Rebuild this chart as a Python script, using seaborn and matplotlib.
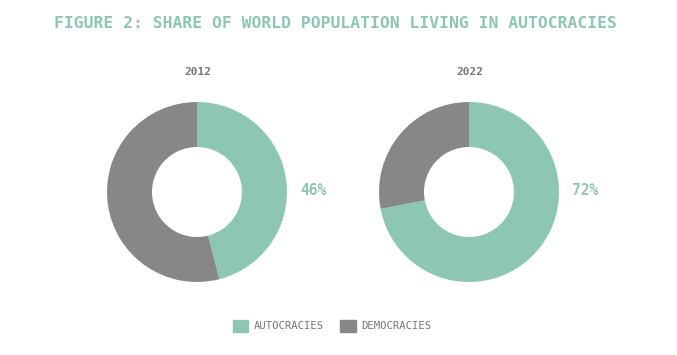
import matplotlib
matplotlib.use("Agg")
import matplotlib.pyplot as plt
import matplotlib.patches as mpatches
import seaborn as sns

# data
years = ["2012", "2022"]
categories = ["AUTOCRACIES", "DEMOCRACIES"]
autocracy_share = [46, 72]
democracy_share = [54, 28]

teal = "#8dc7b4"
grey = "#878786"
colors = [teal, grey]

sns.set_theme(style="white")
plt.rcParams['font.family'] = ['DejaVu Sans Mono', 'DejaVu Sans']

fig = plt.figure(figsize=(6.77, 3.55), dpi=100)
fig.patch.set_facecolor("white")

fig.text(335 / 677, 1 - 24 / 355, "FIGURE 2: SHARE OF WORLD POPULATION LIVING IN AUTOCRACIES",
         ha="center", va="center", fontsize=11.8, fontweight="bold", color=teal)

centers = [197, 469]
radius = 90
for i, year in enumerate(years):
    cx = centers[i]
    ax = fig.add_axes([(cx - radius) / 677, (355 - 192 - radius) / 355,
                       2 * radius / 677, 2 * radius / 355])
    ax.pie([autocracy_share[i], democracy_share[i]], colors=colors,
           startangle=90, counterclock=False, radius=1.0,
           wedgeprops=dict(width=0.5, edgecolor="none"))
    ax.set_xlim(-1, 1)
    ax.set_ylim(-1, 1)
    ax.set_aspect("auto")
    ax.axis("off")
    fig.text((cx + 1) / 677, 1 - 72 / 355, year, ha="center", va="center",
             fontsize=8, fontweight="bold", color="#777777")
    fig.text((cx + 116) / 677, 1 - 191 / 355, f"{autocracy_share[i]}%",
             ha="center", va="center", fontsize=10.5, fontweight="bold", color=teal)

handles = [mpatches.Patch(color=c, label=l) for c, l in zip(colors, categories)]
fig.legend(handles=handles, loc="center", bbox_to_anchor=(332 / 677, 1 - 326 / 355),
           ncol=2, frameon=False, fontsize=7.6, handlelength=1.45, handleheight=1.45,
           handletextpad=0.5, columnspacing=1.6, labelcolor="#777777")

fig.savefig("out.png", dpi=100, facecolor="white")
